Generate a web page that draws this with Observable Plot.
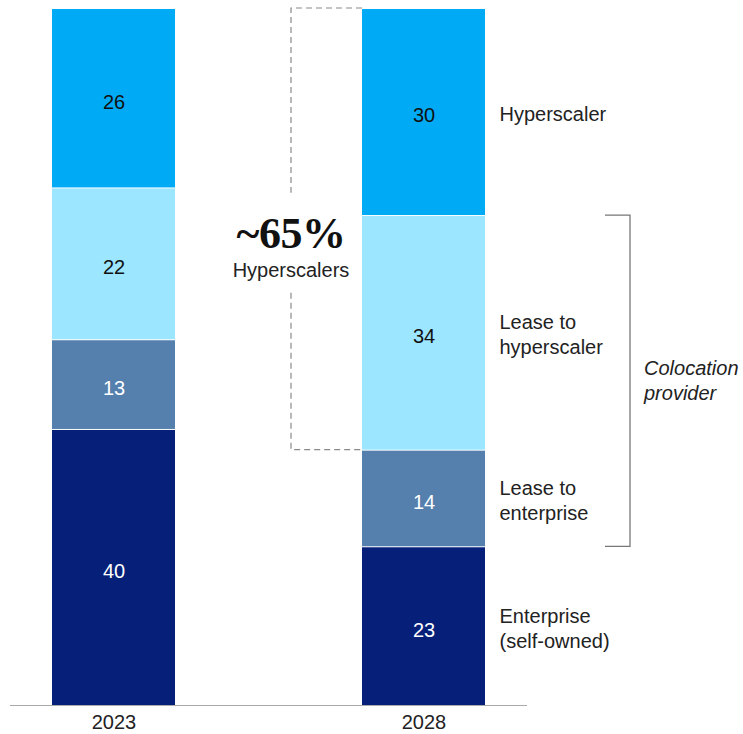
<!DOCTYPE html>
<html><head><meta charset="utf-8">
<script src="https://cdn.jsdelivr.net/npm/d3@7"></script>
<script src="https://cdn.jsdelivr.net/npm/@observablehq/plot@0.6"></script>
<style>
body{margin:0;background:#fff}
#chart g[aria-label^="x-axis"] text{font-size:20px !important;fill:#222}
</style>
</head><body><div id="chart"></div>
<script>
const years = ["2023", "2028"];
const segments = ["Enterprise", "Lease to enterprise", "Lease to hyperscaler", "Hyperscaler"];
const segmentLabels = ["Enterprise\n(self-owned)", "Lease to\nenterprise", "Lease to\nhyperscaler", "Hyperscaler"];
const values2023 = [40, 13, 22, 26];
const values2028 = [23, 14, 34, 30];
const colors = ["#061f78", "#5580ae", "#9de6ff", "#00aaf5"];
const darkSegments = ["Enterprise", "Lease to enterprise"];
const bracketLabel = "Colocation\nprovider";
const shareLabel = "~65%";
const shareSub = "Hyperscalers";
const hyperscalerSegments = ["Lease to hyperscaler", "Hyperscaler"];

const valuesByYear = {"2023": values2023, "2028": values2028};
const data = [];
years.forEach(y => segments.forEach((s, i) => data.push({year: y, segment: s, label: segmentLabels[i], value: valuesByYear[y][i]})));

const FONT = "Liberation Sans, Arial, sans-serif";
const FS = 20;
const total2028 = d3.sum(values2028);
const cum = (arr, k) => d3.sum(arr.slice(0, k));

const annotations = (index, scales) => {
  const x = scales.x, y = scales.y;
  const bw = x.bandwidth ? x.bandwidth() : 123;
  const xl = x("2028"), xr = xl + bw;
  const g = d3.create("svg:g");
  // dashed bracket: hyperscaler share
  const top = y(total2028);
  const bot = y(cum(values2028, segments.indexOf(hyperscalerSegments[0])));
  const bx = xl - 71;
  const mid = (top + bot) / 2;
  const dash = {stroke: "#8a8a8a", "stroke-width": 1.2, "stroke-dasharray": "6,4", fill: "none"};
  const p1 = g.append("path").attr("d", `M${xl},${top}H${bx}V${mid - 36}`);
  const p2 = g.append("path").attr("d", `M${bx},${mid + 64}V${bot}H${xl}`);
  for (const p of [p1, p2]) for (const k in dash) p.attr(k, dash[k]);
  g.append("text").attr("x", bx).attr("y", mid + 19).attr("text-anchor", "middle")
    .attr("font-family", "Liberation Serif, Times New Roman, serif").attr("font-size", 44).attr("font-weight", 600)
    .attr("letter-spacing", "-0.5px").attr("fill", "#111").text(shareLabel);
  g.append("text").attr("x", bx).attr("y", mid + 48).attr("text-anchor", "middle")
    .attr("font-family", FONT).attr("font-size", FS).attr("fill", "#222").text(shareSub);
  // colocation bracket
  const cTop = y(cum(values2028, 3));
  const cBot = y(cum(values2028, 1));
  const cx = xr + 145;
  g.append("path").attr("d", `M${cx - 25},${cTop}H${cx}V${cBot}H${cx - 25}`)
    .attr("stroke", "#777").attr("stroke-width", 1.3).attr("fill", "none");
  const lines = bracketLabel.split("\n");
  const cmid = (cTop + cBot) / 2;
  lines.forEach((t, i) => {
    g.append("text").attr("x", cx + 14).attr("y", cmid + (i - (lines.length - 1) / 2) * 25)
      .attr("dy", "0.35em").attr("text-anchor", "start").attr("font-family", FONT).attr("font-style", "italic")
      .attr("font-size", FS).attr("fill", "#222").text(t);
  });
  return g.node();
};

const chart = Plot.plot({
  width: 743,
  height: 734,
  marginLeft: 10,
  marginRight: 216,
  marginTop: 8,
  marginBottom: 29,
  style: {fontFamily: FONT, fontSize: "20px", color: "#222", background: "white"},
  x: {domain: years, paddingInner: 0.6045, paddingOuter: 0.135, tickSize: 0, tickPadding: 9, label: null},
  y: {domain: [0, d3.max([d3.sum(values2023), d3.sum(values2028)])], axis: null},
  color: {domain: segments, range: colors},
  marks: [
    Plot.barY(data, {x: "year", y: "value", fill: "segment", insetTop: 1}),
    Plot.text(data, Plot.stackY({x: "year", y: "value", text: d => darkSegments.includes(d.segment) ? String(d.value) : null, fill: "white", fontSize: FS, dy: 4})),
    Plot.text(data, Plot.stackY({x: "year", y: "value", text: d => darkSegments.includes(d.segment) ? null : String(d.value), fill: "#111", fontSize: FS, dy: 4})),
    Plot.text(data, Plot.stackY({x: "year", y: "value", text: d => d.year === "2028" ? d.label : null, dx: 75.5, dy: 1, textAnchor: "start", lineHeight: 1.25, fontSize: FS, fill: "#222"})),
    Plot.ruleY([0], {stroke: "#aaa", strokeWidth: 1.2}),
    annotations
  ]
});
document.getElementById("chart").appendChild(chart);
</script>
</body></html>
